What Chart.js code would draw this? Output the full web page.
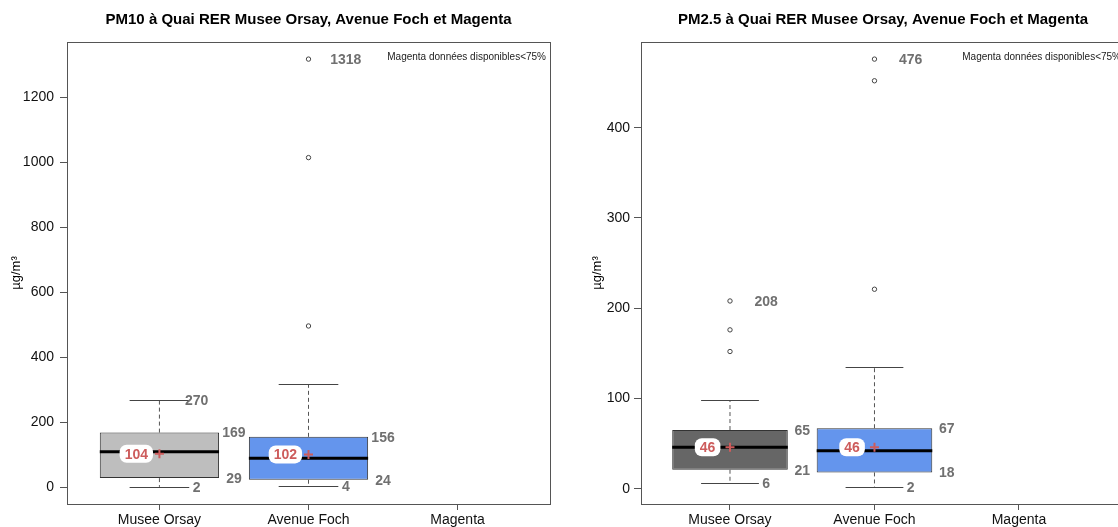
<!DOCTYPE html>
<html>
<head>
<meta charset="utf-8">
<script src="https://cdn.jsdelivr.net/npm/chart.js@4.4.1/dist/chart.umd.min.js"></script>
<style>
  html, body { margin: 0; padding: 0; background: #fff; overflow: hidden; }
  #wrap { position: relative; width: 1118px; height: 527px; overflow: hidden; }
  #pm10 { position: absolute; left: 0; top: 0; }
  #pm25 { position: absolute; left: 559px; top: 0; }
</style>
</head>
<body>
<div id="wrap">
  <canvas id="pm10" width="617" height="527"></canvas>
  <canvas id="pm25" width="631" height="527"></canvas>
</div>
<script>
const CATEGORIES = ["Musee Orsay", "Avenue Foch", "Magenta"];
const NOTE = "Magenta données disponibles<75%";

// PM10 (µg/m3)
const PM10_LOW = [2, 4, null];
const PM10_Q1 = [29, 24, null];
const PM10_MEDIAN = [110, 90, null];
const PM10_Q3 = [169, 156, null];
const PM10_HIGH = [270, 318, null];
const PM10_MEAN = [104, 102, null];
const PM10_OUTLIERS = [[], [497, 1015, 1318], []];
const PM10_TICKS = [0, 200, 400, 600, 800, 1000, 1200];

// PM2.5 (µg/m3)
const PM25_LOW = [6, 2, null];
const PM25_Q1 = [21, 18, null];
const PM25_MEDIAN = [46, 42, null];
const PM25_Q3 = [65, 67, null];
const PM25_HIGH = [98, 135, null];
const PM25_MEAN = [46, 46, null];
const PM25_OUTLIERS = [[152, 176, 208], [221, 452, 476], []];
const PM25_TICKS = [0, 100, 200, 300, 400];

const FONT = "'Liberation Sans', Arial, sans-serif";
const LABEL_GREY = "#707070";
const MEAN_RED = "#CD5C5C";

// same 4% extension as R does on the data range
function paddedRange(lists) {
  const all = lists.flat(2).filter(v => v != null);
  const lo = Math.min(...all), hi = Math.max(...all);
  const d = (hi - lo) * 0.04;
  return [lo - d, hi + d];
}

function makeDecor(s) {
  return {
    id: 'boxDecor',
    afterDatasetDraw(chart, args) {
      if (args.index !== 0) return;
      const { ctx, scales: { x, y } } = chart;
      ctx.save();
      s.median.forEach((m, i) => {
        if (m == null) return;
        const pos = i + 1;
        const px = x.getPixelForValue(pos);
        // whiskers
        ctx.strokeStyle = '#555';
        ctx.lineWidth = 1;
        ctx.setLineDash([4, 3]);
        ctx.beginPath();
        ctx.moveTo(px, y.getPixelForValue(s.q3[i]));
        ctx.lineTo(px, y.getPixelForValue(s.high[i]));
        ctx.moveTo(px, y.getPixelForValue(s.q1[i]));
        ctx.lineTo(px, y.getPixelForValue(s.low[i]));
        ctx.stroke();
        ctx.setLineDash([]);
        ctx.strokeStyle = '#444';
        ctx.beginPath();
        [s.high[i], s.low[i]].forEach(v => {
          const py = Math.round(y.getPixelForValue(v)) + 0.5;
          ctx.moveTo(x.getPixelForValue(pos - 0.2), py);
          ctx.lineTo(x.getPixelForValue(pos + 0.2), py);
        });
        ctx.stroke();
        // median
        ctx.strokeStyle = '#000';
        ctx.lineWidth = 3;
        ctx.beginPath();
        const my = y.getPixelForValue(m);
        ctx.moveTo(x.getPixelForValue(pos - 0.4), my);
        ctx.lineTo(x.getPixelForValue(pos + 0.4), my);
        ctx.stroke();
      });
      ctx.restore();
    },
    afterDatasetsDraw(chart) {
      const { ctx, chartArea, scales: { x, y } } = chart;
      ctx.save();
      ctx.font = "bold 14px " + FONT;
      ctx.textAlign = 'center';
      ctx.textBaseline = 'middle';
      s.median.forEach((m, i) => {
        if (m == null) return;
        const pos = i + 1;
        const top = Math.max(s.high[i], ...s.outliers[i]);
        ctx.fillStyle = LABEL_GREY;
        ctx.fillText(String(top), x.getPixelForValue(pos + 0.25), y.getPixelForValue(top) + 1);
        ctx.fillText(String(s.low[i]), x.getPixelForValue(pos + 0.25), y.getPixelForValue(s.low[i]) + 1);
        ctx.fillText(String(s.q3[i]), x.getPixelForValue(pos + 0.5), y.getPixelForValue(s.q3[i]) + 1);
        ctx.fillText(String(s.q1[i]), x.getPixelForValue(pos + 0.5), y.getPixelForValue(s.q1[i]) + 1);
        // mean label in a white rounded box
        const txt = String(s.mean[i]);
        const cx = x.getPixelForValue(pos - 0.155);
        const cy = y.getPixelForValue(s.mean[i]);
        const w = ctx.measureText(txt).width + 10;
        ctx.fillStyle = '#fff';
        ctx.beginPath();
        ctx.roundRect(cx - w / 2, cy - 9, w, 18, 7);
        ctx.fill();
        ctx.fillStyle = MEAN_RED;
        ctx.fillText(txt, cx, cy + 1);
      });
      ctx.font = "10px " + FONT;
      ctx.textAlign = 'right';
      ctx.fillStyle = '#222';
      ctx.fillText(NOTE, chartArea.right - 4, chartArea.top + 15);
      // frame
      ctx.strokeStyle = '#555';
      ctx.lineWidth = 1;
      ctx.strokeRect(Math.round(chartArea.left) + 0.5, Math.round(chartArea.top) + 0.5,
        Math.round(chartArea.right - chartArea.left), Math.round(chartArea.bottom - chartArea.top));
      ctx.restore();
    }
  };
}

function makeChart(id, cfg) {
  const s = cfg.stats;
  const [ymin, ymax] = paddedRange([s.low, s.high, s.outliers]);
  const boxes = [], boxColors = [], outliers = [], means = [];
  s.q1.forEach((q, i) => {
    if (q == null) return;
    boxes.push({ x: i + 1, y: [q, s.q3[i]] });
    boxColors.push(cfg.colors[i]);
    means.push({ x: i + 1, y: s.mean[i] });
    s.outliers[i].forEach(v => outliers.push({ x: i + 1, y: v }));
  });

  return new Chart(document.getElementById(id), {
    type: 'bar',
    data: {
      datasets: [
        {
          data: boxes,
          backgroundColor: boxColors,
          borderColor: '#333',
          borderWidth: 1,
          borderSkipped: false,
          categoryPercentage: 0.8,
          barPercentage: 1,
          order: 3
        },
        {
          type: 'scatter',
          data: outliers,
          pointStyle: 'circle',
          pointRadius: 2.2,
          backgroundColor: 'rgba(0,0,0,0)',
          borderColor: '#444',
          borderWidth: 1,
          order: 2
        },
        {
          type: 'scatter',
          data: means,
          pointStyle: 'cross',
          pointRadius: 4.5,
          borderColor: MEAN_RED,
          borderWidth: 2,
          order: 1
        }
      ]
    },
    options: {
      responsive: false,
      animation: false,
      events: [],
      layout: { padding: { left: 0, right: cfg.padRight, top: 0, bottom: 0 } },
      plugins: {
        legend: { display: false },
        tooltip: { enabled: false },
        title: {
          display: true,
          fullSize: false,
          text: cfg.title,
          color: '#000',
          font: { family: FONT, size: 15, weight: 'bold' },
          padding: { top: 11, bottom: 13 }
        }
      },
      scales: {
        x: {
          type: 'linear',
          min: cfg.xRange[0],
          max: cfg.xRange[1],
          offset: false,
          grid: { offset: false, drawOnChartArea: false, tickLength: 6, tickColor: '#555' },
          border: { display: false },
          afterBuildTicks: sc => { sc.ticks = CATEGORIES.map((c, i) => ({ value: i + 1 })); },
          afterFit: sc => { sc.height = 23; },
          ticks: {
            autoSkip: false,
            maxRotation: 0,
            padding: 2,
            color: '#111',
            font: { family: FONT, size: 14 },
            callback: v => CATEGORIES[v - 1]
          }
        },
        y: {
          type: 'linear',
          min: ymin,
          max: ymax,
          grid: { drawOnChartArea: false, tickLength: 7, tickColor: '#555' },
          border: { display: false },
          afterBuildTicks: sc => { sc.ticks = cfg.ticks.map(v => ({ value: v })); },
          afterFit: sc => { sc.width = cfg.yWidth; },
          ticks: {
            padding: cfg.tickPad,
            color: '#111',
            font: { family: FONT, size: 14 },
            callback: v => String(v)
          },
          title: {
            display: true,
            text: 'µg/m³',
            color: '#000',
            font: { family: FONT, size: 13 },
            padding: { top: cfg.titlePad, bottom: 0 }
          }
        }
      }
    },
    plugins: [makeDecor(s)]
  });
}

makeChart('pm10', {
  title: 'PM10 à Quai RER Musee Orsay, Avenue Foch et Magenta',
  stats: { low: PM10_LOW, q1: PM10_Q1, median: PM10_MEDIAN, q3: PM10_Q3, high: PM10_HIGH, mean: PM10_MEAN, outliers: PM10_OUTLIERS },
  ticks: PM10_TICKS,
  colors: ['#BEBEBE', '#6495ED', '#BEBEBE'],
  xRange: [0.38, 3.62],
  yWidth: 67,
  padRight: 67,
  tickPad: 6,
  titlePad: 9
});

makeChart('pm25', {
  title: 'PM2.5 à Quai RER Musee Orsay, Avenue Foch et Magenta',
  stats: { low: PM25_LOW, q1: PM25_Q1, median: PM25_MEDIAN, q3: PM25_Q3, high: PM25_HIGH, mean: PM25_MEAN, outliers: PM25_OUTLIERS },
  ticks: PM25_TICKS,
  colors: ['#666666', '#6495ED', '#666666'],
  xRange: [0.384, 3.734],
  yWidth: 82,
  padRight: 65,
  tickPad: 4,
  titlePad: 31
});
</script>
</body>
</html>
